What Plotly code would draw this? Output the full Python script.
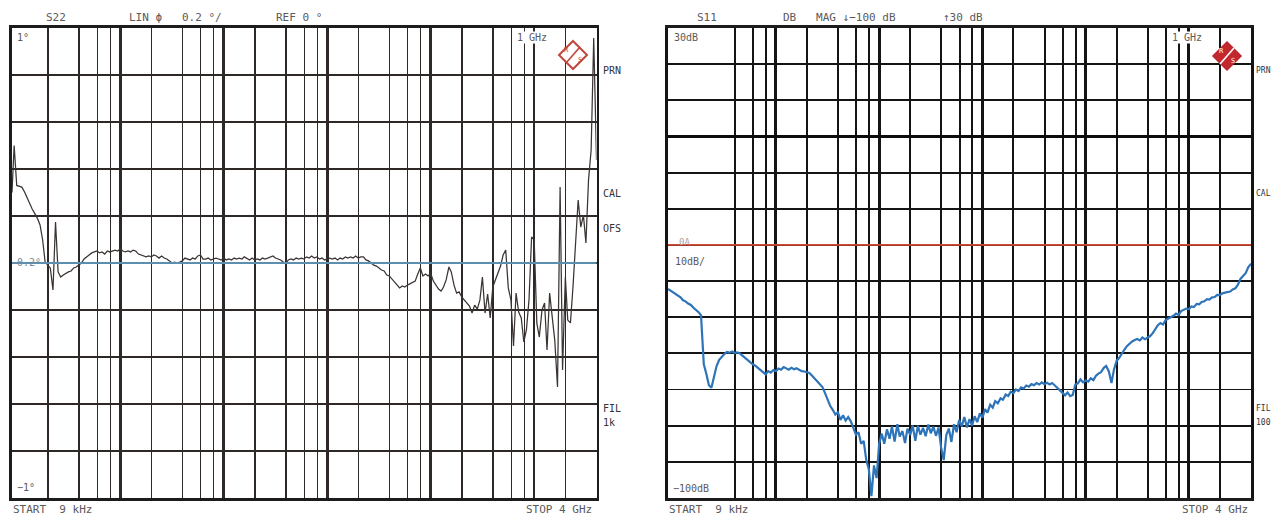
import math
import plotly.graph_objects as go

W, H = 1274, 516

# ---------------- data ----------------
# sweep points (Hz), 9 kHz .. 4 GHz
FREQ_HZ = [
    9.00e3, 9.44e3,
    1.00e4, 1.06e4, 1.12e4, 1.19e4, 1.26e4, 1.33e4, 1.41e4, 1.50e4, 1.58e4, 1.68e4,
    1.78e4, 1.88e4, 2.00e4, 2.11e4, 2.24e4, 2.37e4, 2.51e4, 2.66e4, 2.82e4, 2.99e4,
    3.16e4, 3.35e4, 3.55e4, 3.76e4, 3.98e4, 4.22e4, 4.47e4, 4.73e4, 5.01e4, 5.31e4,
    5.62e4, 5.96e4, 6.31e4, 6.68e4, 7.08e4, 7.50e4, 7.94e4, 8.41e4, 8.91e4, 9.44e4,
    1.00e5, 1.06e5, 1.12e5, 1.19e5, 1.26e5, 1.33e5, 1.41e5, 1.50e5, 1.58e5, 1.68e5,
    1.78e5, 1.88e5, 2.00e5, 2.11e5, 2.24e5, 2.37e5, 2.51e5, 2.66e5, 2.82e5, 2.99e5,
    3.16e5, 3.35e5, 3.55e5, 3.76e5, 3.98e5, 4.22e5, 4.47e5, 4.73e5, 5.01e5, 5.31e5,
    5.62e5, 5.96e5, 6.31e5, 6.68e5, 7.08e5, 7.50e5, 7.94e5, 8.41e5, 8.91e5, 9.44e5,
    1.00e6, 1.06e6, 1.12e6, 1.19e6, 1.26e6, 1.33e6, 1.41e6, 1.50e6, 1.58e6, 1.68e6,
    1.78e6, 1.88e6, 2.00e6, 2.11e6, 2.24e6, 2.37e6, 2.51e6, 2.66e6, 2.82e6, 2.99e6,
    3.16e6, 3.35e6, 3.55e6, 3.76e6, 3.98e6, 4.22e6, 4.47e6, 4.73e6, 5.01e6, 5.31e6,
    5.62e6, 5.96e6, 6.31e6, 6.68e6, 7.08e6, 7.50e6, 7.94e6, 8.41e6, 8.91e6, 9.44e6,
    1.00e7, 1.06e7, 1.12e7, 1.19e7, 1.26e7, 1.33e7, 1.41e7, 1.50e7, 1.58e7, 1.68e7,
    1.78e7, 1.88e7, 2.00e7, 2.11e7, 2.24e7, 2.37e7, 2.51e7, 2.66e7, 2.82e7, 2.99e7,
    3.16e7, 3.35e7, 3.55e7, 3.76e7, 3.98e7, 4.22e7, 4.47e7, 4.73e7, 5.01e7, 5.31e7,
    5.62e7, 5.96e7, 6.31e7, 6.68e7, 7.08e7, 7.50e7, 7.94e7, 8.41e7, 8.91e7, 9.44e7,
    1.00e8, 1.06e8, 1.12e8, 1.19e8, 1.26e8, 1.33e8, 1.41e8, 1.50e8, 1.58e8, 1.68e8,
    1.78e8, 1.88e8, 2.00e8, 2.11e8, 2.24e8, 2.37e8, 2.51e8, 2.66e8, 2.82e8, 2.99e8,
    3.16e8, 3.35e8, 3.55e8, 3.76e8, 3.98e8, 4.22e8, 4.47e8, 4.73e8, 5.01e8, 5.31e8,
    5.62e8, 5.96e8, 6.31e8, 6.68e8, 7.08e8, 7.50e8, 7.94e8, 8.41e8, 8.91e8, 9.44e8,
    1.00e9, 1.06e9, 1.12e9, 1.19e9, 1.26e9, 1.33e9, 1.41e9, 1.50e9, 1.58e9, 1.68e9,
    1.78e9, 1.88e9, 2.00e9, 2.11e9, 2.24e9, 2.37e9, 2.51e9, 2.66e9, 2.82e9, 2.99e9,
    3.16e9, 3.35e9, 3.55e9, 3.76e9, 4.00e9,
]

# S22, linear phase (deg), 0.2 deg/div, ref 0
S22_PHASE = [
    0.30, 0.50, 0.33, 0.328, 0.323, 0.302, 0.277, 0.255, 0.230, 0.209,
    0.191, 0.162, 0.098, 0.004, -0.009, -0.021, -0.115, 0.174, -0.038, -0.060,
    -0.051, -0.043, -0.038, -0.034, -0.021, -0.017, -0.009, 0.000, 0.017, 0.026,
    0.034, 0.043, 0.047, 0.051, 0.043, 0.047, 0.038, 0.051, 0.047, 0.051,
    0.055, 0.051, 0.060, 0.051, 0.047, 0.051, 0.047, 0.055, 0.051, 0.038,
    0.034, 0.030, 0.026, 0.030, 0.026, 0.034, 0.030, 0.021, 0.030, 0.021,
    0.017, 0.009, 0.000, 0.004, 0.000, 0.004, 0.009, 0.021, 0.017, 0.013,
    0.021, 0.017, 0.030, 0.034, 0.017, 0.017, 0.021, 0.013, 0.017, 0.021,
    0.017, 0.013, 0.021, 0.013, 0.017, 0.013, 0.021, 0.017, 0.021, 0.017,
    0.026, 0.021, 0.013, 0.021, 0.013, 0.017, 0.013, 0.021, 0.017, 0.021,
    0.026, 0.030, 0.021, 0.017, 0.013, 0.004, 0.000, 0.013, 0.017, 0.013,
    0.021, 0.017, 0.021, 0.017, 0.026, 0.021, 0.030, 0.021, 0.026, 0.017,
    0.021, 0.013, 0.017, 0.021, 0.017, 0.021, 0.013, 0.021, 0.017, 0.026,
    0.021, 0.026, 0.021, 0.030, 0.021, 0.026, 0.026, 0.013, 0.009, 0.000,
    -0.009, -0.013, -0.021, -0.030, -0.034, -0.051, -0.055, -0.068, -0.081, -0.098,
    -0.106, -0.098, -0.102, -0.094, -0.089, -0.085, -0.077, -0.047, -0.021, -0.055,
    -0.047, -0.055, -0.043, -0.077, -0.094, -0.111, -0.119, -0.102, -0.072, -0.017,
    -0.038, -0.094, -0.128, -0.123, -0.145, -0.157, -0.170, -0.183, -0.213, -0.179,
    -0.196, -0.157, -0.060, -0.213, -0.132, -0.234, -0.102, -0.072, -0.043, -0.013,
    0.034, 0.055, -0.106, -0.157, -0.353, -0.128, -0.209, -0.234, -0.336, -0.285,
    -0.157, 0.111, 0.098, -0.255, -0.315, -0.200, -0.170, -0.370, -0.128, -0.255,
    -0.328, -0.528, 0.323, -0.455, -0.060, -0.243, -0.255, -0.102, 0.111, 0.268,
    0.153, 0.204, 0.085, 0.353, 0.481, 0.957, 0.438,
]

# S11, dB magnitude, 10 dB/div, -100 .. +30 dB
S11_DB = [
    -42.2, -42.6, -43.0, -43.6, -44.1, -44.5, -45.3, -45.6, -46.2, -46.6,
    -47.3, -47.9, -48.6, -49.5, -63.0, -65.5, -68.8, -69.5, -66.5, -63.5,
    -61.8, -60.8, -60.2, -59.6, -59.8, -59.5, -59.9, -59.7, -60.0, -60.6,
    -61.2, -61.9, -62.3, -63.0, -63.4, -64.0, -64.6, -65.0, -65.8, -64.9,
    -65.3, -64.6, -64.9, -64.2, -64.5, -63.8, -64.1, -64.5, -64.0, -64.4,
    -64.1, -64.6, -64.9, -65.0, -65.3, -65.4, -66.2, -67.0, -67.6, -68.6,
    -69.3, -71.0, -72.6, -74.5, -75.6, -76.9, -76.3, -78.4, -77.1, -78.6,
    -77.6, -78.8, -80.6, -82.5, -81.8, -85.0, -84.2, -89.5, -92.0, -99.5,
    -91.0, -94.5, -85.0, -82.2, -85.0, -81.0, -83.6, -80.2, -84.4, -79.6,
    -83.0, -81.5, -84.8, -80.8, -82.6, -79.9, -84.2, -80.0, -82.5, -80.6,
    -82.9, -79.7, -82.1, -80.3, -82.8, -80.5, -86.0, -89.5, -82.6, -80.8,
    -84.5, -79.6, -81.8, -78.4, -80.2, -77.6, -80.5, -78.2, -80.0, -77.4,
    -79.0, -76.6, -77.8, -75.4, -76.4, -74.2, -75.0, -73.2, -73.8, -72.4,
    -72.8, -71.4, -71.8, -70.6, -71.0, -70.0, -70.4, -69.4, -69.7, -68.9,
    -69.2, -68.5, -68.8, -68.2, -68.6, -68.0, -68.5, -68.1, -68.6, -68.2,
    -68.8, -69.5, -70.4, -70.9, -71.6, -70.8, -71.8, -71.5, -68.6, -68.3,
    -67.2, -68.0, -67.5, -67.8, -66.9, -67.4, -66.2, -65.6, -65.2, -64.0,
    -63.5, -65.0, -68.2, -64.5, -62.0, -61.3, -60.0, -59.0, -58.0, -57.2,
    -56.7, -56.3, -56.0, -56.4, -55.6, -56.1, -55.7, -55.2, -54.4, -53.4,
    -52.2, -51.6, -52.0, -50.8, -50.4, -50.1, -49.6, -49.0, -49.4, -48.3,
    -48.0, -47.6, -47.8, -47.0, -47.2, -46.3, -46.4, -45.8, -45.6, -45.0,
    -45.1, -44.5, -44.4, -43.8, -43.9, -43.4, -43.2, -43.0, -42.9, -42.3,
    -42.0, -41.0, -39.4, -38.6, -37.8, -36.2, -35.2,
]

F_START_HZ = 9e3
F_STOP_HZ = 4e9
DECADE_LINES_HZ = [1e5, 1e6, 1e7, 1e8, 1e9]
SUB_LINES_HZ = [
    2e4, 4e4, 6e4, 8e4, 2e5, 4e5, 6e5, 8e5, 2e6, 4e6, 6e6, 8e6,
    2e7, 4e7, 6e7, 8e7, 2e8, 4e8, 6e8, 8e8, 2e9,
]
PHASE_RANGE = [-1.0, 1.0]
PHASE_DIV = 0.2
DB_RANGE = [-100, 30]
DB_DIV = 10
DB_LIMIT = -30

# ---------------- layout helpers ----------------
def px(x):
    return x / W

def py(y):
    return 1 - y / H

XL = [px(12), px(596.5)]
XR = [px(668), px(1251)]
YD = [py(498), py(28)]
XRANGE = [math.log10(F_START_HZ), math.log10(F_STOP_HZ)]

fig = go.Figure()

fig.add_trace(go.Scatter(
    x=FREQ_HZ, y=S22_PHASE, mode="lines", xaxis="x", yaxis="y",
    line=dict(color="#3a3433", width=1.25), showlegend=False, hoverinfo="skip"))
fig.add_trace(go.Scatter(
    x=FREQ_HZ, y=S11_DB, mode="lines", xaxis="x2", yaxis="y2",
    line=dict(color="#2e74b9", width=2.2), showlegend=False, hoverinfo="skip"))

def xaxis(domain, anchor, major_w, minor_w, color, minor_vals):
    return dict(
        type="log", domain=domain, anchor=anchor, range=XRANGE,
        tickmode="array", tickvals=DECADE_LINES_HZ, showticklabels=False, ticks="",
        showgrid=True, gridcolor=color, gridwidth=major_w,
        minor=dict(tickmode="array", tickvals=minor_vals, showgrid=True,
                   gridcolor=color, gridwidth=minor_w, ticks=""),
        showline=True, mirror=True, linecolor="#1c1c1c", linewidth=2.6,
        zeroline=False, fixedrange=True,
    )

fig.update_layout(
    width=W, height=H,
    margin=dict(l=0, r=0, t=0, b=0),
    paper_bgcolor="white", plot_bgcolor="white",
    xaxis=xaxis(XL, "y", 2.6, 1.3, "#2e2926", SUB_LINES_HZ),
    xaxis2=xaxis(XR, "y2", 3.0, 2.0, "#141414", SUB_LINES_HZ[1:]),
    yaxis=dict(domain=YD, anchor="x", range=PHASE_RANGE, tickmode="linear",
               tick0=PHASE_RANGE[0], dtick=PHASE_DIV, showticklabels=False, ticks="",
               showgrid=True, gridcolor="#2e2926", gridwidth=1.3, zeroline=False,
               showline=True, mirror=True, linecolor="#1c1c1c", linewidth=2.6,
               fixedrange=True),
    yaxis2=dict(domain=YD, anchor="x2", range=DB_RANGE, tickmode="linear",
                tick0=DB_RANGE[0], dtick=DB_DIV, showticklabels=False, ticks="",
                showgrid=True, gridcolor="#141414", gridwidth=1.9,
                zeroline=True, zerolinecolor="#0c0c0c", zerolinewidth=3.6,
                showline=True, mirror=True, linecolor="#141414", linewidth=3,
                fixedrange=True),
)

shapes = []
# shortened 10 kHz line (left), 10 kHz and 20 kHz lines (right)
shapes.append(dict(type="line", xref="x", yref="y", layer="below",
                   x0=math.log10(1e4), x1=math.log10(1e4), y0=0.925, y1=-0.93,
                   line=dict(color="#1c1c1c", width=2.8)))
for f, w in ((1e4, 3.0), (2e4, 2.0)):
    shapes.append(dict(type="line", xref="x2", yref="y2", layer="below",
                       x0=math.log10(f), x1=math.log10(f), y0=25.5, y1=-94.5,
                       line=dict(color="#141414", width=w)))
# reference line (left) and limit line (right)
shapes.append(dict(type="line", xref="x domain", yref="y", x0=0, x1=1, y0=0, y1=0,
                   line=dict(color="#6db0dd", width=1.7), layer="above"))
shapes.append(dict(type="line", xref="x2 domain", yref="y2", x0=0, x1=1,
                   y0=DB_LIMIT, y1=DB_LIMIT, line=dict(color="#d24a32", width=1.6),
                   layer="above"))

# R&S logos
def diamond(cx, cy, r):
    return (f"M {px(cx)} {py(cy - r)} L {px(cx + r)} {py(cy)} "
            f"L {px(cx)} {py(cy + r)} L {px(cx - r)} {py(cy)} Z")

shapes.append(dict(type="path", xref="paper", yref="paper", path=diamond(573, 55, 14),
                   line=dict(color="#c0473c", width=2), fillcolor="white", layer="above"))
shapes.append(dict(type="line", xref="paper", yref="paper",
                   x0=px(580), y0=py(47), x1=px(566), y1=py(63),
                   line=dict(color="#c0473c", width=1.6), layer="above"))
shapes.append(dict(type="path", xref="paper", yref="paper", path=diamond(1227, 56, 14),
                   line=dict(color="#b8252c", width=1.5), fillcolor="#c3282f", layer="above"))
shapes.append(dict(type="line", xref="paper", yref="paper",
                   x0=px(1234), y0=py(48), x1=px(1220), y1=py(64),
                   line=dict(color="white", width=1.6), layer="above"))
fig.update_layout(shapes=shapes)

# ---------------- text ----------------
FONT = "DejaVu Sans Mono"
TXT = "#5a5a5a"
anns = []

def text(s, x, y, anchor="left", size=11, color=TXT, bg=None):
    d = dict(text=s, x=px(x), y=py(y), xref="paper", yref="paper",
             xanchor=anchor, yanchor="middle", showarrow=False,
             font=dict(family=FONT, size=size, color=color))
    if bg:
        d["bgcolor"] = bg
        d["borderpad"] = 0
    anns.append(d)

# left screen
text("S22", 56, 17, "center")
text("LIN \u03d5   0.2 \u00b0/", 127, 17)
text("REF 0 \u00b0", 274, 17)
text("1\u00b0", 16, 37, size=10, bg="white")
text("1 GHz", 516, 37, size=10, bg="white")
text("PRN", 601, 70, size=10, color="#333")
text("CAL", 601, 193, size=10, color="#333")
text("OFS", 601, 228, size=10, color="#333")
text("FIL", 601, 408, size=10, color="#333")
text("1k", 601, 422, size=10, color="#333")
text("0.2\u00b0", 15, 262, size=10, color="#7a8a98")
text("\u22121\u00b0", 16, 487, size=10, bg="white")
text("START  9 kHz", 11, 509)
text("STOP 4 GHz", 594, 509, "right")
text("R", 566, 50, "center", size=7, color="#c0473c")
text("S", 580, 60, "center", size=7, color="#c0473c")

# right screen (side labels squeezed into the narrow strip at the page edge)
text("S11", 707, 17, "center")
text("DB   MAG \u2193\u2212100 dB", 781, 17)
text("\u219130 dB", 941, 17)
text("30dB", 673, 37, size=10, bg="white")
text("1 GHz", 1171, 37, size=10, bg="white")
text("PRN", 1273, 70, "right", size=8, color="#333")
text("CAL", 1273, 193, "right", size=8, color="#333")
text("FIL", 1273, 408, "right", size=8, color="#333")
text("100", 1273, 422, "right", size=8, color="#333")
text("0A", 677, 242, size=9, color="#b0a0a0")
text("10dB/", 674, 261, size=10, bg="white")
text("\u2212100dB", 672, 488, size=10, bg="white")
text("START  9 kHz", 667, 509)
text("STOP 4 GHz", 1250, 509, "right")
text("R", 1221, 51, "center", size=7, color="white")
text("S", 1233, 61, "center", size=7, color="white")

fig.update_layout(annotations=anns)

fig.write_html(
    "out.html",
    config={"displayModeBar": False, "staticPlot": True},
    post_script="document.body.style.margin='0';document.body.style.overflow='hidden';",
)
